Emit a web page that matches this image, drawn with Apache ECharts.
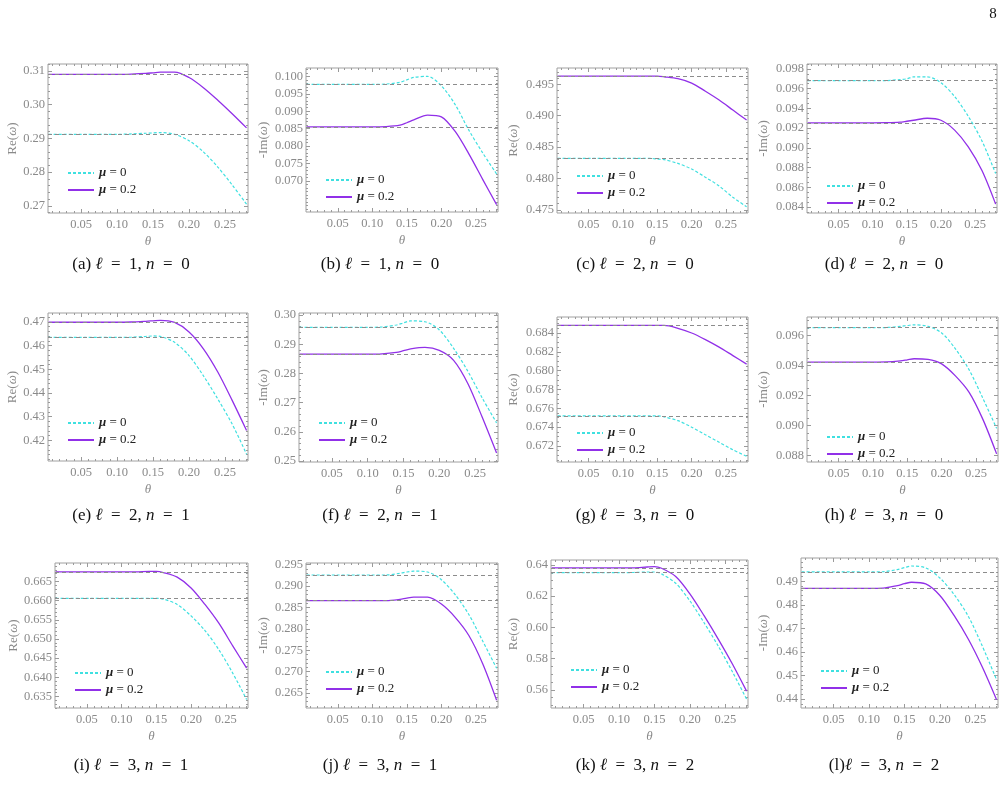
<!DOCTYPE html>
<html>
<head>
<meta charset="utf-8">
<script src="https://cdn.jsdelivr.net/npm/echarts@6/dist/echarts.min.js"></script>
<style>
  html, body { margin: 0; padding: 0; background: #fff; }
  #chart { width: 1006px; height: 787px; }
</style>
</head>
<body>
<div id="chart"></div>
<script>
// theta samples shared by every panel
const theta = [0.005, 0.05, 0.10, 0.12, 0.14, 0.15, 0.16, 0.18, 0.20, 0.22, 0.24, 0.26, 0.28];
const xTicks = [0.05, 0.10, 0.15, 0.20, 0.25];

// (a) l=1 n=0 Re
const aMu0  = [0.2912, 0.2912, 0.2912, 0.2913, 0.2915, 0.2916, 0.2917, 0.2912, 0.2893, 0.2860, 0.2815, 0.2762, 0.2705];
const aMu02 = [0.3089, 0.3089, 0.3089, 0.3090, 0.3092, 0.3094, 0.3096, 0.3096, 0.3080, 0.3050, 0.3013, 0.2973, 0.2931];
// (b) l=1 n=0 -Im
const bMu0  = [0.0977, 0.0977, 0.0977, 0.0978, 0.0983, 0.0990, 0.0997, 0.1000, 0.0973, 0.0919, 0.0845, 0.0780, 0.0720];
const bMu02 = [0.0855, 0.0855, 0.0855, 0.0856, 0.0860, 0.0867, 0.0875, 0.0889, 0.0884, 0.0842, 0.0777, 0.0704, 0.0632];
// (c) l=2 n=0 Re
const cMu0  = [0.4832, 0.4832, 0.4832, 0.4832, 0.4832, 0.4831, 0.4830, 0.4824, 0.4815, 0.4802, 0.4788, 0.4770, 0.4755];
const cMu02 = [0.4963, 0.4963, 0.4963, 0.4963, 0.4963, 0.4963, 0.4962, 0.4959, 0.4952, 0.4939, 0.4925, 0.4909, 0.4893];
// (d) l=2 n=0 -Im
const dMu0  = [0.09681, 0.09681, 0.09681, 0.09682, 0.09692, 0.0970, 0.0972, 0.0972, 0.0966, 0.0952, 0.0932, 0.0907, 0.0874];
const dMu02 = [0.09254, 0.09254, 0.09254, 0.09255, 0.0926, 0.0927, 0.0928, 0.0930, 0.0928, 0.0918, 0.0901, 0.0877, 0.0843];
// (e) l=2 n=1 Re
const eMu0  = [0.4635, 0.4635, 0.4635, 0.4636, 0.4639, 0.4641, 0.4639, 0.4614, 0.4558, 0.4473, 0.4375, 0.4269, 0.4142];
const eMu02 = [0.4699, 0.4699, 0.4699, 0.4700, 0.4703, 0.4705, 0.4707, 0.4698, 0.4658, 0.4587, 0.4489, 0.4369, 0.4242];
// (f) l=2 n=1 -Im
const fMu0  = [0.2958, 0.2958, 0.2958, 0.2959, 0.2966, 0.2973, 0.2980, 0.2977, 0.2949, 0.2886, 0.2807, 0.2716, 0.2631];
const fMu02 = [0.2866, 0.2866, 0.2866, 0.2867, 0.2872, 0.2878, 0.2884, 0.2889, 0.2879, 0.2845, 0.2765, 0.2650, 0.2528];
// (g) l=3 n=0 Re
const gMu0  = [0.6752, 0.6752, 0.6752, 0.6752, 0.6752, 0.6752, 0.6751, 0.6747, 0.6740, 0.6732, 0.6724, 0.6716, 0.6709];
const gMu02 = [0.6848, 0.6848, 0.6848, 0.6848, 0.6848, 0.6848, 0.6848, 0.6845, 0.6840, 0.6833, 0.6825, 0.6816, 0.6807];
// (h) l=3 n=0 -Im
const hMu0  = [0.09651, 0.09651, 0.09651, 0.09652, 0.0966, 0.09665, 0.0967, 0.0966, 0.09616, 0.0951, 0.0937, 0.0918, 0.0898];
const hMu02 = [0.09422, 0.09422, 0.09422, 0.09423, 0.0943, 0.09437, 0.09444, 0.0944, 0.0941, 0.0933, 0.0922, 0.0904, 0.0881];
// (i) l=3 n=1 Re
const iMu0  = [0.6606, 0.6606, 0.6606, 0.6606, 0.6606, 0.6606, 0.6604, 0.6590, 0.6560, 0.6522, 0.6472, 0.6411, 0.6342];
const iMu02 = [0.6675, 0.6675, 0.6675, 0.6675, 0.6676, 0.6676, 0.6673, 0.6661, 0.6633, 0.6590, 0.6541, 0.6482, 0.6424];
// (j) l=3 n=1 -Im
const jMu0  = [0.2926, 0.2926, 0.2926, 0.2926, 0.2930, 0.2933, 0.2935, 0.2933, 0.2915, 0.2880, 0.2833, 0.2771, 0.2708];
const jMu02 = [0.2866, 0.2866, 0.2866, 0.2866, 0.2869, 0.2872, 0.2874, 0.2874, 0.2858, 0.2827, 0.2784, 0.2718, 0.2633];
// (k) l=3 n=2 Re
const kMu0  = [0.6351, 0.6351, 0.6351, 0.6352, 0.6355, 0.6355, 0.6343, 0.6283, 0.6170, 0.6030, 0.5880, 0.5715, 0.5540];
const kMu02 = [0.6381, 0.6381, 0.6381, 0.6382, 0.6387, 0.6389, 0.6379, 0.6326, 0.6215, 0.6075, 0.5925, 0.5765, 0.5591];
// (l) l=3 n=2 -Im
const lMu0  = [0.4940, 0.4940, 0.4940, 0.4941, 0.4950, 0.4958, 0.4965, 0.4957, 0.4914, 0.4844, 0.4752, 0.4624, 0.4482];
const lMu02 = [0.4870, 0.4870, 0.4870, 0.4871, 0.4882, 0.4890, 0.4896, 0.4889, 0.4840, 0.4755, 0.4655, 0.4535, 0.4397];

// y tick labels per panel
const yTicksA = [0.27, 0.28, 0.29, 0.30, 0.31];
const yTicksB = [0.070, 0.075, 0.080, 0.085, 0.090, 0.095, 0.100];
const yTicksC = [0.475, 0.480, 0.485, 0.490, 0.495];
const yTicksD = [0.084, 0.086, 0.088, 0.090, 0.092, 0.094, 0.096, 0.098];
const yTicksE = [0.42, 0.43, 0.44, 0.45, 0.46, 0.47];
const yTicksF = [0.25, 0.26, 0.27, 0.28, 0.29, 0.30];
const yTicksG = [0.672, 0.674, 0.676, 0.678, 0.680, 0.682, 0.684];
const yTicksH = [0.088, 0.090, 0.092, 0.094, 0.096];
const yTicksI = [0.635, 0.640, 0.645, 0.650, 0.655, 0.660, 0.665];
const yTicksJ = [0.265, 0.270, 0.275, 0.280, 0.285, 0.290, 0.295];
const yTicksK = [0.56, 0.58, 0.60, 0.62, 0.64];
const yTicksL = [0.44, 0.45, 0.46, 0.47, 0.48, 0.49];

const panels = [
  { tag: 'a', l: 1, n: 0, yName: 'Re', mu0: aMu0, mu02: aMu02, ticks: yTicksA, dec: 2, ymin: 0.2679, ymax: 0.3120, minor: 0.002, box: [48, 64, 248, 213], leg: 168 },
  { tag: 'b', l: 1, n: 0, yName: 'Im', mu0: bMu0, mu02: bMu02, ticks: yTicksB, dec: 3, ymin: 0.0611, ymax: 0.1024, minor: 0.001, box: [306, 68, 498, 212], leg: 175 },
  { tag: 'c', l: 2, n: 0, yName: 'Re', mu0: cMu0, mu02: cMu02, ticks: yTicksC, dec: 3, ymin: 0.4745, ymax: 0.4976, minor: 0.001, box: [557, 68, 748, 213], leg: 171 },
  { tag: 'd', l: 2, n: 0, yName: 'Im', mu0: dMu0, mu02: dMu02, ticks: yTicksD, dec: 3, ymin: 0.0834, ymax: 0.0985, minor: 0.0005, box: [807, 64, 997, 213], leg: 181 },
  { tag: 'e', l: 2, n: 1, yName: 'Re', mu0: eMu0, mu02: eMu02, ticks: yTicksE, dec: 2, ymin: 0.4113, ymax: 0.4738, minor: 0.002, box: [48, 313, 248, 461], leg: 418 },
  { tag: 'f', l: 2, n: 1, yName: 'Im', mu0: fMu0, mu02: fMu02, ticks: yTicksF, dec: 2, ymin: 0.2497, ymax: 0.3007, minor: 0.002, box: [299, 313, 498, 462], leg: 418 },
  { tag: 'g', l: 3, n: 0, yName: 'Re', mu0: gMu0, mu02: gMu02, ticks: yTicksG, dec: 3, ymin: 0.6703, ymax: 0.6857, minor: 0.0005, box: [557, 317, 748, 462], leg: 428 },
  { tag: 'h', l: 3, n: 0, yName: 'Im', mu0: hMu0, mu02: hMu02, ticks: yTicksH, dec: 3, ymin: 0.08756, ymax: 0.09722, minor: 0.0005, box: [807, 317, 998, 462], leg: 432 },
  { tag: 'i', l: 3, n: 1, yName: 'Re', mu0: iMu0, mu02: iMu02, ticks: yTicksI, dec: 3, ymin: 0.6320, ymax: 0.6698, minor: 0.001, box: [55, 563, 248, 708], leg: 668 },
  { tag: 'j', l: 3, n: 1, yName: 'Im', mu0: jMu0, mu02: jMu02, ticks: yTicksJ, dec: 3, ymin: 0.2615, ymax: 0.2954, minor: 0.001, box: [306, 563, 498, 708], leg: 667 },
  { tag: 'k', l: 3, n: 2, yName: 'Re', mu0: kMu0, mu02: kMu02, ticks: yTicksK, dec: 2, ymin: 0.5483, ymax: 0.6432, minor: 0.005, box: [551, 560, 748, 708], leg: 665 },
  { tag: 'l', l: 3, n: 2, yName: 'Im', mu0: lMu0, mu02: lMu02, ticks: yTicksL, dec: 2, ymin: 0.4362, ymax: 0.4999, minor: 0.002, box: [801, 558, 998, 708], leg: 666 }
];

const xMin = 0.004, xMax = 0.282;
const colX = [0, 250, 500, 750];
const captionX = [131, 380, 635, 884];
const captionY = [265, 516, 766];

const FONT = 'Liberation Serif';
const GRAY = '#8a8a8a';
const TICK = '#9a9a9a';
const CYAN = '#3fe0e0';
const PURPLE = '#9130e8';
const REF = '#8c8c8c';
const EN = '\u2002';

function stepValues (min, max, step) {
  const out = [];
  const start = Math.ceil(min / step - 1e-9);
  for (let k = start; k * step <= max + 1e-12; k++) out.push(+(k * step).toFixed(6));
  return out;
}

const xMinor = stepValues(xMin, xMax, 0.01);

const chart = echarts.init(document.getElementById('chart'));
const grid = [], xAxis = [], yAxis = [], series = [], legend = [], graphic = [];

panels.forEach((p, i) => {
  const [L, T, R, B] = p.box;
  const col = i % 4, row = Math.floor(i / 4);
  grid.push({
    left: L, top: T, width: R - L, height: B - T,
    show: true, borderColor: '#a0a0a0', borderWidth: 1, backgroundColor: 'transparent',
    outerBoundsMode: 'none'
  });
  const yMinor = stepValues(p.ymin, p.ymax, p.minor);
  const base = { gridIndex: i, type: 'value', axisLine: { show: false }, splitLine: { show: false } };
  const tickOnly = (vals, len, pos) => Object.assign({}, base, {
    position: pos,
    axisTick: { show: true, inside: true, length: len, customValues: vals, lineStyle: { color: TICK, width: 1 } },
    axisLabel: { show: false }
  });
  const xi = xAxis.length;
  xAxis.push(Object.assign({}, base, {
    min: xMin, max: xMax, position: 'bottom',
    axisTick: { show: true, inside: true, length: 4, customValues: xTicks, lineStyle: { color: TICK } },
    axisLabel: { customValues: xTicks, formatter: v => v.toFixed(2), color: GRAY, fontFamily: FONT, fontSize: 12.5, margin: 5 },
    name: 'θ', nameLocation: 'middle', nameGap: 22,
    nameTextStyle: { color: GRAY, fontFamily: FONT, fontSize: 13, fontStyle: 'italic' }
  }));
  [[xMinor, 2, 'bottom'], [xTicks, 4, 'top'], [xMinor, 2, 'top']].forEach(a => {
    xAxis.push(Object.assign(tickOnly(a[0], a[1], a[2]), { min: xMin, max: xMax }));
  });
  const yi = yAxis.length;
  const labelCenter = colX[col] + 13;
  yAxis.push(Object.assign({}, base, {
    min: p.ymin, max: p.ymax, position: 'left',
    axisTick: { show: true, inside: true, length: 4, customValues: p.ticks, lineStyle: { color: TICK } },
    axisLabel: { customValues: p.ticks, formatter: v => v.toFixed(p.dec), color: GRAY, fontFamily: FONT, fontSize: 12.5, margin: 3 },
    name: p.yName === 'Re' ? 'Re({w|ω})' : '-Im({w|ω})',
    nameLocation: 'middle', nameGap: L - labelCenter - 7,
    nameTextStyle: {
      color: GRAY, fontFamily: FONT, fontSize: 13,
      rich: { w: { color: GRAY, fontFamily: FONT, fontSize: 13, fontStyle: 'italic' } }
    }
  }));
  [[yMinor, 2, 'left'], [p.ticks, 4, 'right'], [yMinor, 2, 'right']].forEach(a => {
    yAxis.push(Object.assign(tickOnly(a[0], a[1], a[2]), { min: p.ymin, max: p.ymax }));
  });

  const refLine = v => ({
    silent: true, symbol: 'none', precision: 6, label: { show: false },
    lineStyle: { color: REF, type: [4, 3], width: 1 },
    emphasis: { disabled: true },
    data: [{ yAxis: v }]
  });
  series.push({
    name: 'μ = 0', type: 'line', xAxisIndex: xi, yAxisIndex: yi,
    symbol: 'none', smooth: 0.3, color: CYAN,
    lineStyle: { color: CYAN, width: 1.2, type: [3, 2] },
    data: theta.map((t, k) => [t, p.mu0[k]]),
    markLine: refLine(p.mu0[0])
  });
  series.push({
    name: 'μ = 0.2', type: 'line', xAxisIndex: xi, yAxisIndex: yi,
    symbol: 'none', smooth: 0.3, color: PURPLE,
    lineStyle: { color: PURPLE, width: 1.3, type: 'solid' },
    data: theta.map((t, k) => [t, p.mu02[k]]),
    markLine: refLine(p.mu02[0])
  });

  legend.push({
    left: L + 14, top: p.leg - 8, orient: 'vertical',
    itemWidth: 26, itemHeight: 8, itemGap: 1, selectedMode: false,
    itemStyle: { opacity: 0 },
    data: ['μ = 0', 'μ = 0.2'],
    formatter: name => name.replace('μ', '{m|μ}'),
    textStyle: {
      color: '#222', fontFamily: FONT, fontSize: 13, lineHeight: 16,
      rich: { m: { color: '#222', fontFamily: FONT, fontSize: 13, fontStyle: 'italic', fontWeight: 'bold' } }
    }
  });

  const sep = p.tag === 'l' ? '' : ' ';
  graphic.push({
    type: 'text', x: captionX[col], y: captionY[row],
    style: {
      text: '(' + p.tag + ')' + sep + '{i|ℓ}' + EN + '=' + EN + p.l + ', {i|n}' + EN + '=' + EN + p.n,
      rich: { i: { fontFamily: FONT, fontSize: 17, fontStyle: 'italic', fill: '#111' } },
      fontFamily: FONT, fontSize: 17, fill: '#111', align: 'center', verticalAlign: 'middle'
    }
  });
});

graphic.push({
  type: 'text', x: 993, y: 14,
  style: { text: '8', fontFamily: FONT, fontSize: 15, fill: '#111', align: 'center', verticalAlign: 'middle' }
});

chart.setOption({
  animation: false,
  backgroundColor: '#fff',
  grid, xAxis, yAxis, series, legend, graphic
});
</script>
</body>
</html>
